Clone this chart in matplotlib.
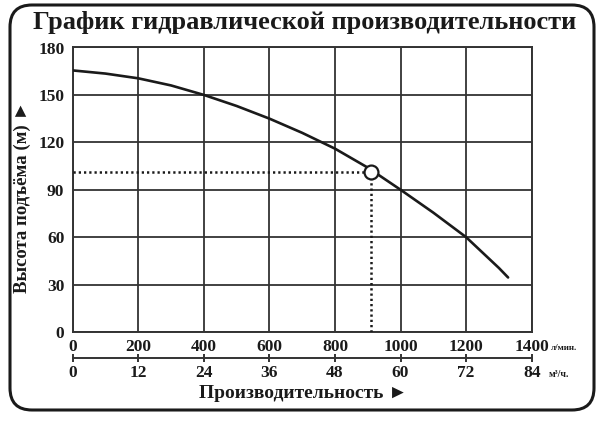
import matplotlib
matplotlib.use("Agg")
import matplotlib.pyplot as plt
from matplotlib.patches import FancyBboxPatch

# pump curve: flow (l/min) vs head (m)
flow_lpm = [0, 100, 200, 300, 400, 500, 600, 700, 800, 900, 1000, 1100, 1200, 1300, 1328]
head_m = [165.5, 163.5, 160.5, 156, 150, 143, 135, 126, 116, 104, 90, 75.5, 60, 40.5, 34.5]

duty_flow = 911
duty_head = 101.5

x_ticks = [0, 200, 400, 600, 800, 1000, 1200, 1400]
y_ticks = [0, 30, 60, 90, 120, 150, 180]
m3h_ticks = [0, 12, 24, 36, 48, 60, 72, 84]

title = "График гидравлической производительности"
ylabel = "Высота подъёма (м) ►"
xlabel = "Производительность ►"

W, H = 601, 423
fonts = ["Liberation Serif", "DejaVu Serif", "DejaVu Sans"]
plt.rcParams["font.family"] = fonts
plt.rcParams["font.weight"] = "bold"
ink = "#1a1a1a"

fig = plt.figure(figsize=(W / 100, H / 100), dpi=100)

# background layer in pixel coords for the rounded frame
bg = fig.add_axes([0, 0, 1, 1])
bg.set_xlim(0, W)
bg.set_ylim(H, 0)
bg.axis("off")
bg.add_patch(FancyBboxPatch((10, 5), 584, 405, boxstyle="round,pad=0,rounding_size=22",
                            fill=False, ec=ink, lw=2.2))

def px(x, y):
    return x / W, 1 - y / H

left, top = 72.7, 47.5
right, bottom = 531.7, 332
ax = fig.add_axes([left / W, 1 - bottom / H, (right - left) / W, (bottom - top) / H])
ax.set_xlim(0, 1400)
ax.set_ylim(0, 180)

ax.set_xticks(x_ticks)
ax.set_xticklabels([str(v) for v in x_ticks])
ax.set_yticks(y_ticks)
ax.set_yticklabels([str(v) for v in y_ticks])
ax.grid(True, color="#333333", lw=1.3)
ax.set_axisbelow(True)
for s in ax.spines.values():
    s.set_color("#333333")
    s.set_linewidth(1.4)
ax.tick_params(axis="both", length=0, labelsize=12.5, colors=ink)
ax.tick_params(axis="x", pad=5)
ax.tick_params(axis="y", pad=6)

ax.plot(flow_lpm, head_m, color=ink, lw=1.9, solid_capstyle="round", solid_joinstyle="round", zorder=3)
ax.plot([0, duty_flow], [duty_head, duty_head], color=ink, lw=1.8, ls=(0, (0.9, 1.2)), zorder=3)
ax.plot([duty_flow, duty_flow], [0, duty_head], color=ink, lw=1.8, ls=(0, (0.9, 1.2)), zorder=3)
ax.plot([duty_flow], [duty_head], "o", ms=10, mfc="white", mec=ink, mew=1.6, zorder=4)

# second scale in m3/h
sec = ax.secondary_xaxis((bottom - 358) / (bottom - top),
                         functions=(lambda q: q * 0.06, lambda m: m / 0.06))
sec.set_xticks(m3h_ticks)
sec.set_xticklabels([str(v) for v in m3h_ticks])
sec.spines["bottom"].set_color("#333333")
sec.spines["bottom"].set_linewidth(1.4)
sec.tick_params(direction="inout", length=6, width=1.4, color="#333333",
                labelsize=12.5, labelcolor=ink, pad=2)

fig.text(*px(305, 22), title, ha="center", va="center", fontsize=19, color=ink)
fig.text(*px(22, 197), ylabel, ha="center", va="center", rotation=90, fontsize=13.5, color=ink)
fig.text(*px(303, 393), xlabel, ha="center", va="center", fontsize=14, color=ink)
fig.text(*px(551, 348), "л/мин.", ha="left", va="center", fontsize=6.5, color=ink)
fig.text(*px(549, 374), "м³/ч.", ha="left", va="center", fontsize=7, color=ink)

fig.savefig("out.png", dpi=100)
